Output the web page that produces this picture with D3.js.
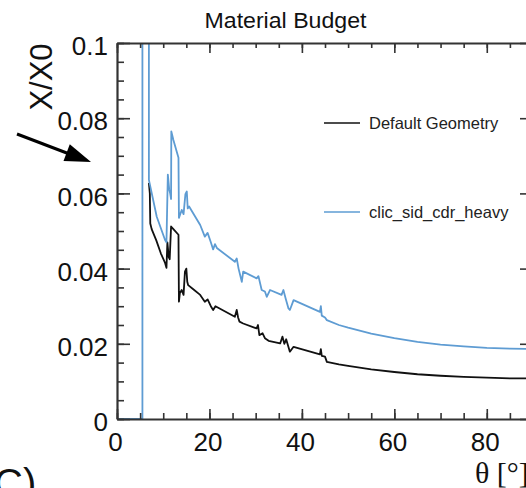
<!DOCTYPE html>
<html>
<head>
<meta charset="utf-8">
<script src="https://cdn.jsdelivr.net/npm/d3@7"></script>
<style>
  html, body { margin: 0; padding: 0; background: #ffffff; overflow: hidden; }
  svg { display: block; }
</style>
</head>
<body>
<script>
// ---------------- data ----------------
const seriesNames = ["Default Geometry", "clic_sid_cdr_heavy"];

const thetaDefault = [6.9, 7.1, 7.2, 7.5, 8.5, 9.5, 10.4, 10.7, 10.9, 11.2, 11.4, 11.7, 12.2, 13.3, 13.4, 13.6, 14.0, 14.4, 14.7, 15.0, 15.2, 15.4, 16.5, 18.0, 19.0, 19.6, 20.3, 20.8, 21.3, 21.6, 25.5, 25.9, 26.2, 26.5, 27.3, 30.2, 30.5, 30.8, 31.5, 32.0, 32.8, 35.3, 35.8, 36.2, 36.6, 37.4, 38.2, 43.9, 44.1, 44.3, 45.0, 45.4, 48, 50, 55, 60, 65, 70, 75, 80, 85, 90];
const xx0Default   = [0.0628, 0.0600, 0.0520, 0.0505, 0.0475, 0.0440, 0.0415, 0.0402, 0.0470, 0.0430, 0.0425, 0.0512, 0.0505, 0.0490, 0.0312, 0.0335, 0.0343, 0.0330, 0.0392, 0.0400, 0.0365, 0.0356, 0.0345, 0.0330, 0.0312, 0.0318, 0.0300, 0.0290, 0.0300, 0.0298, 0.0272, 0.0290, 0.0270, 0.0259, 0.0254, 0.0241, 0.0250, 0.0223, 0.0228, 0.0215, 0.0208, 0.0201, 0.0219, 0.0200, 0.0212, 0.0179, 0.0192, 0.0172, 0.0186, 0.0168, 0.0166, 0.0152, 0.0145, 0.0141, 0.0132, 0.0125, 0.0119, 0.0115, 0.0112, 0.0110, 0.0108, 0.0108];

const thetaHeavy = [0, 5.5, 5.5, 6.9, 6.9, 8.6, 10.4, 10.7, 11.0, 11.3, 11.5, 11.7, 11.75, 12.2, 13.3, 13.4, 14.0, 14.4, 14.8, 15.1, 15.3, 15.6, 18.0, 19.0, 19.6, 20.3, 20.8, 21.2, 21.6, 25.5, 25.9, 26.3, 27.0, 27.3, 30.2, 30.6, 31.3, 32.0, 32.4, 33.1, 35.6, 36.0, 36.5, 37.1, 37.4, 38.2, 43.9, 44.1, 44.3, 45.0, 45.4, 48, 50, 55, 60, 65, 70, 75, 80, 85, 90];
const xx0Heavy   = [0, 0, 0.15, 0.15, 0.0636, 0.0538, 0.0476, 0.0470, 0.0650, 0.0610, 0.0600, 0.0585, 0.0765, 0.0742, 0.0695, 0.0535, 0.0556, 0.0545, 0.0598, 0.0605, 0.0560, 0.0565, 0.0516, 0.0485, 0.0495, 0.0470, 0.0451, 0.0465, 0.0455, 0.0418, 0.0427, 0.0400, 0.0365, 0.0392, 0.0374, 0.0380, 0.0343, 0.0339, 0.0325, 0.0343, 0.0330, 0.0343, 0.0320, 0.0294, 0.0290, 0.0316, 0.0285, 0.0300, 0.0275, 0.0270, 0.0263, 0.0250, 0.0243, 0.0227, 0.0215, 0.0205, 0.0198, 0.0193, 0.0189, 0.0187, 0.0186];

const xTickValues  = [0, 20, 40, 60, 80];
const xTickLabels  = ["0", "20", "40", "60", "80"];
const yTickValues  = [0, 0.02, 0.04, 0.06, 0.08, 0.1];
const yTickLabels  = ["0", "0.02", "0.04", "0.06", "0.08", "0.1"];
const xMinorTicks  = d3.range(0, 91, 5);
const yMinorTicks  = d3.range(0, 0.1001, 0.005);

// ---------------- layout ----------------
const W = 526, H = 488;
const mLeft = 117, mRight = 533, mTop = 43, mBottom = 419;
const axisColor = "#333333";
const blue = "#5e9cd3";
const font = "'Liberation Sans', Arial, Helvetica, sans-serif";

const svg = d3.select("body").append("svg")
  .attr("width", W).attr("height", H)
  .attr("viewBox", `0 0 ${W} ${H}`);

svg.append("rect").attr("width", W).attr("height", H).attr("fill", "#ffffff");

const x = d3.scaleLinear().domain([0, 90]).range([mLeft, mRight]);
const y = d3.scaleLinear().domain([0, 0.1]).range([mBottom, mTop]);

svg.append("defs").append("clipPath").attr("id", "plotclip")
  .append("rect").attr("x", mLeft).attr("y", mTop)
  .attr("width", mRight - mLeft).attr("height", mBottom - mTop);

// ---------------- curves ----------------
const line = d3.line().x(d => x(d[0])).y(d => y(d[1]));
const dataDefault = thetaDefault.map((t, i) => [t, xx0Default[i]]);
const dataHeavy = thetaHeavy.map((t, i) => [t, xx0Heavy[i]]);

const curves = svg.append("g").attr("clip-path", "url(#plotclip)");
curves.append("path").datum(dataDefault)
  .attr("d", line).attr("fill", "none")
  .attr("stroke", "#111111").attr("stroke-width", 1.8)
  .attr("stroke-linejoin", "round");
curves.append("path").datum(dataHeavy)
  .attr("d", line).attr("fill", "none")
  .attr("stroke", blue).attr("stroke-width", 1.8)
  .attr("stroke-linejoin", "round");

// ---------------- axes ----------------
function styleAxis(g, width) {
  g.selectAll(".domain").attr("stroke", axisColor).attr("stroke-width", width);
  g.selectAll(".tick line").attr("stroke", axisColor).attr("stroke-width", 1.6);
  g.selectAll("text").attr("fill", "#111").style("font-family", font).style("font-size", "26px");
}

// bottom
const gxMinor = svg.append("g").attr("transform", `translate(0,${mBottom})`)
  .call(d3.axisBottom(x).tickValues(xMinorTicks).tickSize(-6).tickFormat(""));
gxMinor.select(".domain").remove();
styleAxis(gxMinor, 2);
const gx = svg.append("g").attr("transform", `translate(0,${mBottom})`)
  .call(d3.axisBottom(x).tickValues(xTickValues).tickSizeInner(-10).tickSizeOuter(0)
    .tickPadding(14).tickFormat((d, i) => xTickLabels[i]));
styleAxis(gx, 2.2);
gx.selectAll("text").attr("dx", "-2");

// top
const gtMinor = svg.append("g").attr("transform", `translate(0,${mTop})`)
  .call(d3.axisTop(x).tickValues(xMinorTicks).tickSize(-5).tickFormat(""));
gtMinor.select(".domain").remove();
styleAxis(gtMinor, 2);
const gt = svg.append("g").attr("transform", `translate(0,${mTop})`)
  .call(d3.axisTop(x).tickValues(xTickValues).tickSizeInner(-10).tickSizeOuter(0).tickFormat(""));
styleAxis(gt, 2.2);

// left
const gyMinor = svg.append("g").attr("transform", `translate(${mLeft},0)`)
  .call(d3.axisLeft(y).tickValues(yMinorTicks).tickSize(-7).tickFormat(""));
gyMinor.select(".domain").remove();
styleAxis(gyMinor, 2);
const gy = svg.append("g").attr("transform", `translate(${mLeft},0)`)
  .call(d3.axisLeft(y).tickValues(yTickValues).tickSizeInner(-13).tickSizeOuter(0)
    .tickPadding(9).tickFormat((d, i) => yTickLabels[i]));
styleAxis(gy, 2.2);
gy.selectAll("text").attr("dy", "0.45em");

// right
const grMinor = svg.append("g").attr("transform", `translate(${mRight},0)`)
  .call(d3.axisRight(y).tickValues(yMinorTicks).tickSize(-7).tickFormat(""));
grMinor.select(".domain").remove();
styleAxis(grMinor, 2);
const gr = svg.append("g").attr("transform", `translate(${mRight},0)`)
  .call(d3.axisRight(y).tickValues(yTickValues).tickSizeInner(-13).tickSizeOuter(0).tickFormat(""));
styleAxis(gr, 2.2);

// ---------------- texts ----------------
svg.append("text").attr("x", 285.5).attr("y", 28)
  .attr("text-anchor", "middle")
  .attr("textLength", 162).attr("lengthAdjust", "spacingAndGlyphs")
  .style("font-family", font).style("font-size", "22px").attr("fill", "#111")
  .text("Material Budget");

svg.append("text")
  .attr("transform", "translate(52,77) rotate(-90)")
  .attr("text-anchor", "middle")
  .style("font-family", font).style("font-size", "31px").attr("fill", "#111")
  .text("X/X0");

svg.append("text").attr("x", 475).attr("y", 483)
  .style("font-family", "'Liberation Serif', 'Times New Roman', serif")
  .style("font-size", "30px").attr("fill", "#111")
  .text("θ [°]");

svg.append("text").attr("x", -6).attr("y", 497)
  .style("font-family", font).style("font-size", "40px").attr("fill", "#111")
  .text("C)");

// ---------------- legend ----------------
const legendColors = ["#111111", blue];
const legendY = [123, 212];
seriesNames.forEach((name, i) => {
  svg.append("line").attr("x1", 324).attr("x2", 360)
    .attr("y1", legendY[i]).attr("y2", legendY[i])
    .attr("stroke", legendColors[i]).attr("stroke-width", 1.5);
  svg.append("text").attr("x", 369).attr("y", legendY[i] + 5.5)
    .style("font-family", font).style("font-size", "16.5px").attr("fill", "#222")
    .text(name);
});

// ---------------- arrow ----------------
const arrow = svg.append("g");
arrow.append("line").attr("x1", 17).attr("y1", 134).attr("x2", 72).attr("y2", 155)
  .attr("stroke", "#000").attr("stroke-width", 3);
arrow.append("polygon")
  .attr("points", "91,162 63.5,161 69.8,144.2")
  .attr("fill", "#000");
</script>
</body>
</html>
